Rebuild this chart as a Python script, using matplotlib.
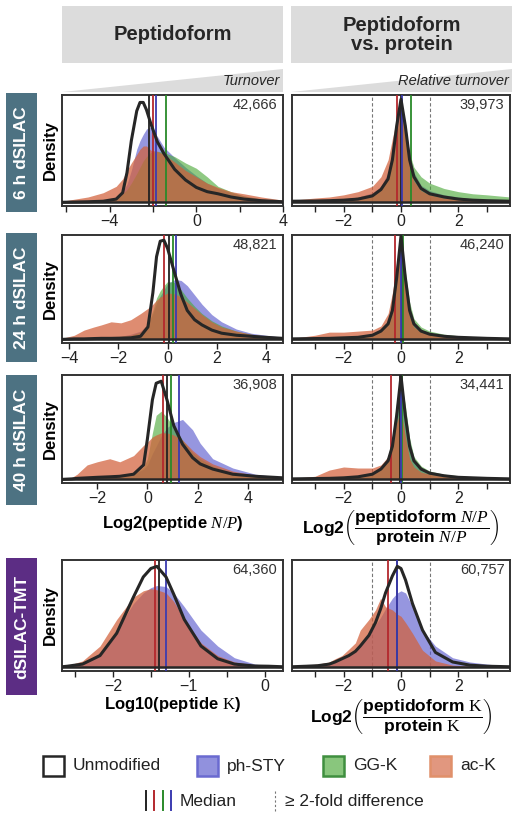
import numpy as np
import matplotlib.pyplot as plt
from matplotlib.patches import Rectangle, Polygon

plt.rcParams['font.family'] = ['Liberation Sans', 'DejaVu Sans']
plt.rcParams['mathtext.fontset'] = 'custom'
plt.rcParams['mathtext.bf'] = 'Liberation Sans:bold'
plt.rcParams['mathtext.it'] = 'Liberation Serif:italic'
plt.rcParams['mathtext.rm'] = 'Liberation Serif'

# ---- data (densities scaled to panel height) ----
# 6 h dSILAC, peptidoform
h6_pep_x = [-6.2, -5.0, -4.3, -3.7, -3.4, -3.2, -3.0, -2.75, -2.6, -2.45, -2.3, -2.1, -1.8, -1.5, -1.0, -0.5, 0.0, 0.5, 1.0, 1.6, 2.2, 3.0, 4.0]
h6_pep_unmod = [0.0, 0.005, 0.01, 0.03, 0.09, 0.28, 0.58, 0.86, 0.94, 0.94, 0.87, 0.74, 0.57, 0.46, 0.31, 0.21, 0.14, 0.10, 0.08, 0.05, 0.03, 0.015, 0.005]
h6_pep_ph = [0.0, 0.005, 0.02, 0.05, 0.1, 0.17, 0.3, 0.5, 0.58, 0.64, 0.69, 0.71, 0.62, 0.52, 0.42, 0.33, 0.25, 0.18, 0.13, 0.09, 0.06, 0.03, 0.01]
h6_pep_gg = [0.0, 0.005, 0.015, 0.04, 0.08, 0.12, 0.18, 0.27, 0.33, 0.39, 0.43, 0.47, 0.48, 0.47, 0.43, 0.37, 0.32, 0.24, 0.15, 0.1, 0.06, 0.03, 0.015]
h6_pep_ac = [0.01, 0.05, 0.09, 0.15, 0.22, 0.3, 0.37, 0.45, 0.5, 0.53, 0.53, 0.49, 0.48, 0.45, 0.38, 0.3, 0.24, 0.18, 0.14, 0.1, 0.08, 0.05, 0.02]

# relative grid shared by the "vs. protein" panels of dSILAC rows
rel_x = [-3.8, -3.0, -2.5, -2.0, -1.5, -1.0, -0.7, -0.45, -0.3, -0.15, 0.0, 0.15, 0.3, 0.45, 0.7, 1.0, 1.5, 2.0, 2.5, 3.0, 3.8]
h6_rel_unmod = [0.01, 0.012, 0.015, 0.02, 0.03, 0.06, 0.12, 0.22, 0.4, 0.72, 0.97, 0.72, 0.4, 0.24, 0.13, 0.08, 0.05, 0.03, 0.02, 0.015, 0.01]
h6_rel_ph = [0.01, 0.015, 0.02, 0.03, 0.05, 0.09, 0.15, 0.28, 0.45, 0.75, 0.94, 0.75, 0.45, 0.28, 0.16, 0.11, 0.07, 0.05, 0.03, 0.02, 0.01]
h6_rel_gg = [0.01, 0.015, 0.02, 0.03, 0.05, 0.08, 0.14, 0.25, 0.4, 0.65, 0.85, 0.7, 0.46, 0.33, 0.24, 0.18, 0.13, 0.1, 0.08, 0.07, 0.05]
h6_rel_ac = [0.02, 0.04, 0.05, 0.07, 0.1, 0.15, 0.24, 0.4, 0.6, 0.78, 0.92, 0.65, 0.35, 0.2, 0.11, 0.07, 0.04, 0.03, 0.02, 0.015, 0.01]

# 24 h dSILAC
h24_pep_x = [-4.3, -3.8, -3.4, -3.0, -2.7, -2.3, -1.9, -1.5, -1.1, -0.8, -0.6, -0.45, -0.3, -0.15, 0.0, 0.3, 0.55, 0.8, 1.1, 1.4, 1.8, 2.2, 2.8, 3.4, 4.0, 4.7]
h24_pep_unmod = [0.0, 0.005, 0.005, 0.008, 0.01, 0.01, 0.012, 0.015, 0.03, 0.12, 0.45, 0.8, 0.95, 0.96, 0.88, 0.63, 0.43, 0.28, 0.19, 0.14, 0.09, 0.06, 0.04, 0.03, 0.02, 0.01]
h24_pep_ph = [0.0, 0.002, 0.005, 0.01, 0.015, 0.02, 0.03, 0.05, 0.08, 0.15, 0.25, 0.35, 0.42, 0.48, 0.54, 0.58, 0.57, 0.52, 0.43, 0.34, 0.24, 0.17, 0.1, 0.06, 0.04, 0.02]
h24_pep_gg = [0.0, 0.002, 0.005, 0.01, 0.015, 0.02, 0.03, 0.04, 0.07, 0.15, 0.28, 0.4, 0.47, 0.52, 0.56, 0.55, 0.48, 0.4, 0.32, 0.25, 0.18, 0.13, 0.08, 0.05, 0.03, 0.015]
h24_pep_ac = [0.01, 0.04, 0.09, 0.12, 0.14, 0.17, 0.16, 0.19, 0.25, 0.3, 0.34, 0.38, 0.41, 0.43, 0.45, 0.44, 0.41, 0.36, 0.3, 0.24, 0.17, 0.12, 0.08, 0.05, 0.03, 0.01]
h24_rel_unmod = [0.005, 0.008, 0.01, 0.015, 0.02, 0.04, 0.08, 0.15, 0.28, 0.6, 1.0, 0.6, 0.28, 0.15, 0.08, 0.05, 0.03, 0.02, 0.015, 0.01, 0.005]
h24_rel_ph = [0.005, 0.01, 0.015, 0.02, 0.03, 0.05, 0.1, 0.18, 0.33, 0.65, 0.92, 0.62, 0.32, 0.17, 0.09, 0.06, 0.04, 0.025, 0.015, 0.01, 0.005]
h24_rel_gg = [0.005, 0.01, 0.015, 0.02, 0.03, 0.05, 0.09, 0.17, 0.32, 0.62, 0.9, 0.66, 0.36, 0.2, 0.12, 0.08, 0.05, 0.035, 0.025, 0.02, 0.01]
h24_rel_ac = [0.01, 0.04, 0.07, 0.07, 0.08, 0.09, 0.13, 0.25, 0.45, 0.75, 0.85, 0.5, 0.22, 0.12, 0.07, 0.05, 0.03, 0.02, 0.015, 0.01, 0.005]

# 40 h dSILAC
h40_pep_x = [-3.4, -3.0, -2.8, -2.4, -2.0, -1.5, -1.1, -0.55, -0.15, 0.0, 0.2, 0.35, 0.55, 0.78, 1.05, 1.4, 1.8, 2.1, 2.6, 3.4, 4.3, 5.4]
h40_pep_unmod = [0.0, 0.005, 0.01, 0.015, 0.02, 0.025, 0.03, 0.05, 0.14, 0.39, 0.77, 0.93, 0.95, 0.77, 0.52, 0.34, 0.21, 0.15, 0.1, 0.05, 0.03, 0.015]
h40_pep_ph = [0.0, 0.003, 0.005, 0.01, 0.015, 0.02, 0.03, 0.05, 0.1, 0.14, 0.25, 0.32, 0.42, 0.5, 0.55, 0.58, 0.48, 0.35, 0.2, 0.11, 0.05, 0.02]
h40_pep_gg = [0.0, 0.003, 0.005, 0.01, 0.015, 0.02, 0.03, 0.05, 0.12, 0.2, 0.45, 0.62, 0.66, 0.6, 0.5, 0.38, 0.26, 0.2, 0.13, 0.06, 0.03, 0.01]
h40_pep_ac = [0.0, 0.02, 0.05, 0.14, 0.17, 0.2, 0.17, 0.23, 0.33, 0.36, 0.41, 0.43, 0.45, 0.45, 0.43, 0.38, 0.28, 0.22, 0.15, 0.08, 0.04, 0.02]
h40_rel_unmod = [0.005, 0.008, 0.01, 0.015, 0.025, 0.05, 0.1, 0.18, 0.32, 0.62, 1.0, 0.62, 0.32, 0.18, 0.1, 0.06, 0.035, 0.02, 0.015, 0.01, 0.005]
h40_rel_ph = [0.005, 0.01, 0.015, 0.02, 0.03, 0.06, 0.12, 0.22, 0.4, 0.7, 0.9, 0.68, 0.38, 0.2, 0.11, 0.07, 0.04, 0.025, 0.015, 0.01, 0.005]
h40_rel_gg = [0.005, 0.01, 0.015, 0.02, 0.03, 0.06, 0.12, 0.22, 0.42, 0.75, 0.95, 0.72, 0.4, 0.22, 0.13, 0.08, 0.05, 0.035, 0.025, 0.02, 0.01]
h40_rel_ac = [0.01, 0.03, 0.09, 0.12, 0.11, 0.11, 0.14, 0.22, 0.35, 0.55, 0.67, 0.42, 0.2, 0.12, 0.07, 0.05, 0.03, 0.02, 0.015, 0.01, 0.005]

# dSILAC-TMT (no GG-K)
tmt_pep_x = [-2.67, -2.6, -2.4, -2.17, -1.95, -1.73, -1.6, -1.5, -1.42, -1.3, -1.2, -1.06, -0.84, -0.62, -0.4, -0.13, 0.05, 0.24]
tmt_pep_unmod = [0.005, 0.01, 0.03, 0.11, 0.32, 0.66, 0.85, 0.93, 0.95, 0.85, 0.69, 0.45, 0.2, 0.08, 0.03, 0.012, 0.01, 0.005]
tmt_pep_ph = [0.005, 0.01, 0.03, 0.14, 0.35, 0.6, 0.7, 0.75, 0.77, 0.76, 0.7, 0.57, 0.35, 0.2, 0.09, 0.03, 0.015, 0.01]
tmt_pep_ac = [0.01, 0.015, 0.06, 0.2, 0.45, 0.66, 0.72, 0.74, 0.73, 0.7, 0.62, 0.45, 0.23, 0.11, 0.05, 0.02, 0.01, 0.005]
tmt_rel_x = [-3.8, -3.3, -2.9, -2.5, -2.3, -2.06, -1.82, -1.59, -1.42, -1.12, -0.89, -0.71, -0.54, -0.3, -0.13, 0.0, 0.16, 0.4, 0.75, 1.2, 1.8, 2.4, 3.0, 3.8]
tmt_rel_unmod = [0.005, 0.01, 0.015, 0.03, 0.05, 0.08, 0.11, 0.15, 0.2, 0.3, 0.42, 0.55, 0.7, 0.86, 0.95, 0.93, 0.82, 0.6, 0.35, 0.14, 0.05, 0.02, 0.01, 0.005]
tmt_rel_ph = [0.005, 0.01, 0.02, 0.04, 0.06, 0.09, 0.12, 0.17, 0.22, 0.32, 0.4, 0.47, 0.55, 0.65, 0.7, 0.72, 0.7, 0.57, 0.35, 0.2, 0.09, 0.05, 0.03, 0.01]
tmt_rel_ac = [0.015, 0.02, 0.03, 0.05, 0.08, 0.11, 0.17, 0.23, 0.35, 0.45, 0.54, 0.65, 0.57, 0.54, 0.5, 0.48, 0.42, 0.32, 0.16, 0.06, 0.02, 0.01, 0.008, 0.005]

# medians: unmodified, ac-K, GG-K, ph-STY
h6_pep_med = [-2.18, -2.0, -1.38, -1.87]
h6_rel_med = [0.0, -0.14, 0.35, 0.02]
h24_pep_med = [0.05, -0.15, 0.2, 0.35]
h24_rel_med = [0.02, -0.2, 0.08, 0.0]
h40_pep_med = [0.78, 0.62, 0.95, 1.27]
h40_rel_med = [-0.03, -0.34, 0.02, 0.0]
tmt_pep_med = [-1.39, -1.45, None, -1.30]
tmt_rel_med = [-0.15, -0.46, None, -0.13]

counts = ["42,666", "39,973", "48,821", "46,240", "36,908", "34,441", "64,360", "60,757"]
row_labels = ["6 h dSILAC", "24 h dSILAC", "40 h dSILAC", "dSILAC-TMT"]
col_titles = ["Peptidoform", "Peptidoform\nvs. protein"]
col_subtitles = ["Turnover", "Relative turnover"]
legend_names = ["Unmodified", "ph-STY", "GG-K", "ac-K"]

C_UNMOD = '#262626'
C_PH = '#5656cc'
C_GG = '#4aa838'
C_AC = '#d2603a'
C_MED = {'unmod': '#222222', 'ac': '#b3282d', 'gg': '#2a8a2a', 'ph': '#3b3bb0'}

W, H = 512, 815
fig = plt.figure(figsize=(W / 100, H / 100), dpi=100)


def box(x0, y0, x1, y1):
    return [x0 / W, 1 - y1 / H, (x1 - x0) / W, (y1 - y0) / H]


def fx(x):
    return x / W


def fy(y):
    return 1 - y / H


cols = [(62, 283), (292, 510)]
rows = [(95, 206), (235, 343), (375, 483), (560, 671)]

panels = [
    (h6_pep_x, h6_pep_unmod, h6_pep_ph, h6_pep_gg, h6_pep_ac, h6_pep_med),
    (rel_x, h6_rel_unmod, h6_rel_ph, h6_rel_gg, h6_rel_ac, h6_rel_med),
    (h24_pep_x, h24_pep_unmod, h24_pep_ph, h24_pep_gg, h24_pep_ac, h24_pep_med),
    (rel_x, h24_rel_unmod, h24_rel_ph, h24_rel_gg, h24_rel_ac, h24_rel_med),
    (h40_pep_x, h40_pep_unmod, h40_pep_ph, h40_pep_gg, h40_pep_ac, h40_pep_med),
    (rel_x, h40_rel_unmod, h40_rel_ph, h40_rel_gg, h40_rel_ac, h40_rel_med),
    (tmt_pep_x, tmt_pep_unmod, tmt_pep_ph, None, tmt_pep_ac, tmt_pep_med),
    (tmt_rel_x, tmt_rel_unmod, tmt_rel_ph, None, tmt_rel_ac, tmt_rel_med),
]

xlims = [(-6.2, 4.0), (-3.8, 3.8), (-4.3, 4.7), (-3.8, 3.8),
         (-3.4, 5.4), (-3.8, 3.8), (-2.67, 0.24), (-3.8, 3.8)]
rel_ticks = [-3, -2, -1, 0, 1, 2, 3]
rel_labels = ['', '\u22122', '', '0', '', '2', '']
xticks = [
    ([-6, -4, -2, 0, 2, 4], ['', '\u22124', '', '0', '', '4']),
    (rel_ticks, rel_labels),
    ([-4, -2, 0, 2, 4], ['\u22124', '\u22122', '0', '2', '4']),
    (rel_ticks, rel_labels),
    ([-2, 0, 2, 4], ['\u22122', '0', '2', '4']),
    (rel_ticks, rel_labels),
    ([-2.5, -2, -1.5, -1, -0.5, 0], ['', '\u22122', '', '\u22121', '', '0']),
    (rel_ticks, rel_labels),
]

for i, (x, unmod, ph, gg, ac, med) in enumerate(panels):
    r, c = divmod(i, 2)
    ax = fig.add_axes(box(cols[c][0], rows[r][0], cols[c][1], rows[r][1]))
    ax.fill_between(x, 0, ph, color=C_PH, alpha=0.62, lw=0, zorder=1)
    if gg is not None:
        ax.fill_between(x, 0, gg, color=C_GG, alpha=0.62, lw=0, zorder=1.1)
    ax.fill_between(x, 0, ac, color=C_AC, alpha=0.72, lw=0, zorder=1.2)
    if c == 1:
        for d in (-1, 1):
            ax.axvline(d, color='#777777', lw=0.8, ls=(0, (3, 2)), zorder=0.5)
    for key, m in zip(['unmod', 'ac', 'gg', 'ph'], med):
        if m is not None:
            ax.axvline(m, color=C_MED[key], lw=1.3, zorder=3)
    ax.plot(x, unmod, color=C_UNMOD, lw=2.2, zorder=4, solid_joinstyle='round')
    ax.axhline(0, color=C_UNMOD, lw=1.8, zorder=4)
    ax.set_xlim(*xlims[i])
    ax.set_ylim(-0.035, 1.01)
    ax.set_yticks([])
    ax.set_xticks(xticks[i][0])
    ax.set_xticklabels(xticks[i][1])
    ax.tick_params(axis='x', direction='out', length=4, width=1, pad=1.5,
                   labelsize=11.5, colors='#222222')
    for s in ax.spines.values():
        s.set_linewidth(1.4)
        s.set_color('#333333')
    ax.text(0.975, 0.97, counts[i], transform=ax.transAxes, ha='right', va='top',
            fontsize=10.5, color='#333333')
    if c == 0:
        ax.set_ylabel('Density', fontweight='bold', fontsize=12, labelpad=3)
    if i == 4:
        ax.set_xlabel(r'Log2(peptide $\mathit{N/P}$)', fontweight='bold',
                      fontsize=12, labelpad=6)
    if i == 5:
        ax.set_xlabel(r'$\mathbf{Log2}\left(\dfrac{\mathbf{peptidoform}\ \mathit{N/P}}'
                      r'{\mathbf{protein}\ \mathit{N/P}}\right)$', fontsize=12.5, labelpad=2)
    if i == 6:
        ax.set_xlabel(r'Log10(peptide $\mathrm{K}$)', fontweight='bold',
                      fontsize=12, labelpad=1)
    if i == 7:
        ax.set_xlabel(r'$\mathbf{Log2}\left(\dfrac{\mathbf{peptidoform}\ \mathrm{K}}'
                      r'{\mathbf{protein}\ \mathrm{K}}\right)$', fontsize=12.5, labelpad=3)

# column headers and wedges
for (x0, x1), title, sub in zip([(62, 283), (291, 512)], col_titles, col_subtitles):
    fig.add_artist(Rectangle((fx(x0), fy(63)), (x1 - x0) / W, 57 / H,
                             transform=fig.transFigure, color='#dcdcdc', lw=0))
    fig.text(fx((x0 + x1) / 2), fy(35), title, ha='center', va='center',
             fontsize=14.5, fontweight='bold', color='#262626', linespacing=1.0)
    fig.add_artist(Polygon([(fx(x0), fy(92)), (fx(x1), fy(69)), (fx(x1), fy(92))],
                           closed=True, transform=fig.transFigure, color='#dcdcdc', lw=0))
    fig.text(fx(x1 - 3), fy(81), sub, ha='right', va='center', fontsize=10.5,
             style='italic', color='#262626')

# row labels
row_boxes = [(93, 212), (233, 362), (375, 505), (558, 695)]
row_colors = ['#4d7282', '#4d7282', '#4d7282', '#5c2d84']
for (y0, y1), lab, col in zip(row_boxes, row_labels, row_colors):
    fig.add_artist(Rectangle((fx(6), fy(y1)), 31 / W, (y1 - y0) / H,
                             transform=fig.transFigure, color=col, lw=0))
    fig.text(fx(21.5), fy((y0 + y1) / 2), lab, rotation=90, ha='center', va='center',
             fontsize=12.5, fontweight='bold', color='white')

# legend
lg = fig.add_axes(box(0, 745, 512, 815))
lg.set_xlim(0, 512)
lg.set_ylim(815, 745)
lg.axis('off')
leg_x = [43, 197, 323, 430]
leg_face = ['white', C_PH, C_GG, C_AC]
leg_edge = ['#262626', '#6a6ad0', '#3f8f3f', '#e0906a']
for lx, name, fc, ec in zip(leg_x, legend_names, leg_face, leg_edge):
    a = 1.0 if fc == 'white' else 0.65
    lg.add_patch(Rectangle((lx, 756), 21, 20, facecolor=fc, alpha=a, lw=0))
    lg.add_patch(Rectangle((lx, 756), 21, 20, facecolor='none', edgecolor=ec, lw=1.8))
    lg.text(lx + 30, 766, name, ha='left', va='center', fontsize=12.5, color='#222222')
for k, key in enumerate(['unmod', 'ac', 'gg', 'ph']):
    lg.plot([146 + 8.3 * k] * 2, [791, 810], color=C_MED[key], lw=1.4)
lg.text(180, 801, 'Median', ha='left', va='center', fontsize=12.5, color='#222222')
lg.plot([275, 275], [791, 812], color='#777777', lw=0.8, ls=(0, (2, 2)))
lg.text(285, 801, '\u2265 2-fold difference', ha='left', va='center', fontsize=12.5,
        color='#222222')

fig.savefig('out.png', dpi=100)
